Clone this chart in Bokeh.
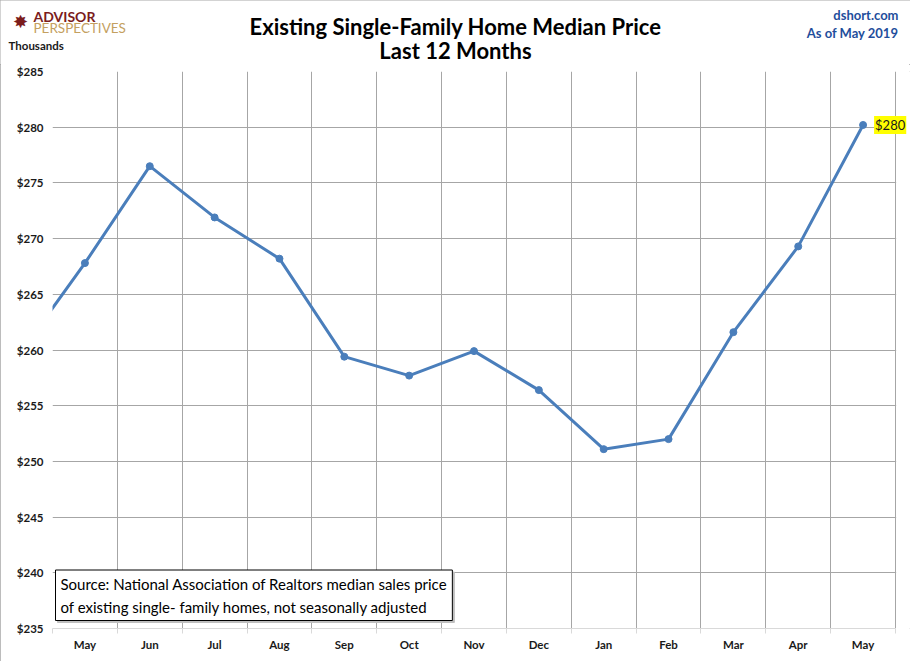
from bokeh.plotting import figure
from bokeh.layouts import column
from bokeh.models import FixedTicker, Label, PrintfTickFormatter, BoxAnnotation
from bokeh.embed import file_html
from bokeh.resources import INLINE

# monthly median price, thousands of dollars (Apr 2018 .. May 2019)
prices = [259.7, 267.8, 276.5, 271.9, 268.2, 259.4, 257.7, 259.9,
          256.4, 251.1, 252.0, 261.6, 269.3, 280.2]
month_labels = ["May", "Jun", "Jul", "Aug", "Sep", "Oct", "Nov",
                "Dec", "Jan", "Feb", "Mar", "Apr", "May"]
y_ticks = [235, 240, 245, 250, 255, 260, 265, 270, 275, 280, 285]

xs = list(range(-1, len(prices) - 1))
centers = list(range(len(month_labels)))
edges = [c - 0.5 for c in centers] + [len(month_labels) - 0.5]

FONT = "Lato"
GRID = "#a6a6a6"
LINE = "#4a7ebb"

W, H = 910, 661
HEAD_H = 64
LEFT, TOP, BOTTOM = 52, 7, 33
plot_w = 843  # pixels covered by the 13 month columns
frame_w = W - LEFT
x_end = -0.5 + len(month_labels) * frame_w / plot_w

# ---- header strip (titles, logo, unit note) ----
head = figure(width=W, height=HEAD_H, output_backend="svg", toolbar_location=None,
              x_range=(0, W), y_range=(0, HEAD_H), min_border=0)
head.frame_align = False
head.axis.visible = False
head.grid.visible = False
head.outline_line_color = None


def htext(x, y, text, size, color, style="bold", align="left"):
    head.add_layout(Label(x=x, y=HEAD_H - y, text=text, text_font=FONT,
                          text_font_size=size, text_color=color,
                          text_font_style=style, text_align=align,
                          text_baseline="middle"))


htext(455, 26, "Existing Single-Family Home Median Price", "22px", "black", align="center")
htext(455, 50, "Last 12 Months", "22px", "black", align="center")
htext(898, 14, "dshort.com", "13px", "#1f4e9c", align="right")
htext(898, 32, "As of May 2019", "13px", "#1f4e9c", align="right")
htext(8, 45, "Thousands", "11.5px", "#1a1a1a")
htext(33, 16, "ADVISOR", "14px", "#7b1c1c")
htext(33, 27, "PERSPECTIVES", "13.5px", "#c4a060", style="normal")
htext(20, 20, "\u2738", "18px", "#7b1c1c", style="normal", align="center")

# ---- main chart ----
p = figure(width=W, height=H - HEAD_H, output_backend="svg", toolbar_location=None,
           x_range=(-0.5, x_end), y_range=(y_ticks[0], y_ticks[-1]),
           min_border_left=LEFT, min_border_right=0, min_border_top=TOP,
           min_border_bottom=BOTTOM)
p.frame_align = False
p.outline_line_color = None
p.background_fill_color = "white"

p.xgrid.ticker = FixedTicker(ticks=edges)
p.ygrid.ticker = FixedTicker(ticks=y_ticks[1:])
p.xgrid.grid_line_color = GRID
p.ygrid.grid_line_color = GRID

p.xaxis.ticker = FixedTicker(ticks=centers, minor_ticks=edges)
p.xaxis.major_label_overrides = {c: m for c, m in zip(centers, month_labels)}
p.xaxis.major_tick_line_color = None
p.xaxis.major_tick_out = 0
p.xaxis.major_tick_in = 0
p.xaxis.minor_tick_line_color = "#d9d9d9"
p.xaxis.minor_tick_out = 5
p.xaxis.minor_tick_in = 0
p.xaxis.axis_line_color = "#d9d9d9"
p.xaxis.bounds = (edges[0], edges[-1])
p.xaxis.major_label_standoff = 4

p.yaxis.ticker = FixedTicker(ticks=y_ticks)
p.yaxis.formatter = PrintfTickFormatter(format="$%d")
p.yaxis.axis_line_color = None
p.yaxis.major_tick_line_color = None
p.yaxis.major_tick_out = 0
p.yaxis.minor_tick_line_color = None
p.yaxis.major_label_standoff = 9

for ax in (p.xaxis, p.yaxis):
    ax.major_label_text_font = FONT
    ax.major_label_text_font_style = "bold"
    ax.major_label_text_font_size = "11.5px"
    ax.major_label_text_color = "#1a1a1a"

p.line(xs, prices, line_color=LINE, line_width=3)
p.scatter(xs, prices, size=7, color=LINE)

# blank strip right of the last month column
p.add_layout(BoxAnnotation(left=edges[-1] + 0.01, fill_color="white", fill_alpha=1,
                           line_color=None))

p.add_layout(Label(x=xs[-1], y=prices[-1], text="$%d" % round(prices[-1]),
                   x_offset=11, text_baseline="middle", text_font=FONT,
                   text_font_size="13px", text_color="#1a1a1a",
                   background_fill_color="#ffff00", padding=1))

# source note with a drop shadow
note = ("Source: National Association of Realtors median sales price\n"
        "of existing single- family homes, not seasonally adjusted")
for dx, dy, fill, border in [(2, -2, "#bfbfbf", "#bfbfbf"), (0, 0, "white", "black")]:
    p.add_layout(Label(x=-0.5, y=y_ticks[0], text=note, x_offset=3 + dx, y_offset=8 + dy,
                       text_font=FONT, text_font_size="15px", text_color="black",
                       text_line_height=1.25,
                       background_fill_color=fill, border_line_color=border,
                       padding=5))

page = column(head, p, spacing=0,
              styles={"outline": "1px solid #a6a6a6", "outline-offset": "-1px"})

open("out.html", "w").write(file_html(page, INLINE))
